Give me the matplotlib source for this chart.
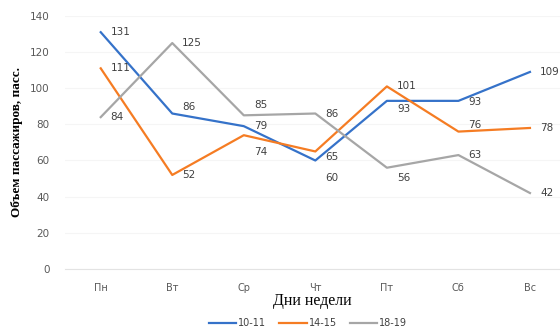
import matplotlib.pyplot as plt

days = ['Пн', 'Вт', 'Ср', 'Чт', 'Пт', 'Сб', 'Вс']
series_names = ['10-11', '14-15', '18-19']
v_10_11 = [131, 86, 79, 60, 93, 93, 109]
v_14_15 = [111, 52, 74, 65, 101, 76, 78]
v_18_19 = [84, 125, 85, 86, 56, 63, 42]

colors = ['#3572C9', '#F57C23', '#A6A6A6']
# vertical nudge of each data label, in pixels (positive = down)
label_dy = [
    [0, -7, 0, 18, 8, 1, 0],
    [0, 0, 17, 6, 0, -7, 0],
    [0, 0, -10, 0, 10, 0, 0],
]

fig = plt.figure(figsize=(5.6, 3.32), dpi=100)
ax = fig.add_axes([0.116, 0.19, 0.884, 0.762])

x = range(len(days))
for vals, name, c, dys in zip([v_10_11, v_14_15, v_18_19], series_names, colors, label_dy):
    ax.plot(x, vals, color=c, lw=1.6, label=name)
    for xi, v, dy in zip(x, vals, dys):
        ax.annotate(str(v), (xi, v), xytext=(10, -dy), textcoords='offset pixels',
                    ha='left', va='center', fontsize=7.5, color='#404040')

ax.set_xlim(-0.5, 6.42)
ax.set_ylim(0, 140)
ax.set_yticks(range(0, 141, 20))
ax.set_xticks(list(x))
ax.set_xticklabels(days)
ax.tick_params(axis='both', length=0, colors='#595959')
ax.tick_params(axis='y', pad=11, labelsize=7.5)
ax.tick_params(axis='x', pad=10, labelsize=7)
for s in ['top', 'right', 'left']:
    ax.spines[s].set_visible(False)
ax.spines['bottom'].set_color('#E3E3E3')
ax.grid(axis='y', color='#F5F5F5', lw=0.8)
ax.set_axisbelow(True)

ax.set_ylabel('Объем пассажиров, пасс.', family='Liberation Serif', fontweight='bold',
              fontsize=9.5, labelpad=5)
ax.set_xlabel('Дни недели', family='Liberation Serif', fontsize=11.5, labelpad=0)

fig.legend(loc='lower center', bbox_to_anchor=(0.55, -0.015), ncol=3, frameon=False,
           fontsize=7, handlelength=2.8, handletextpad=0.2, columnspacing=1.4,
           labelcolor='#404040')

fig.savefig('out.png', dpi=100, facecolor='white')
